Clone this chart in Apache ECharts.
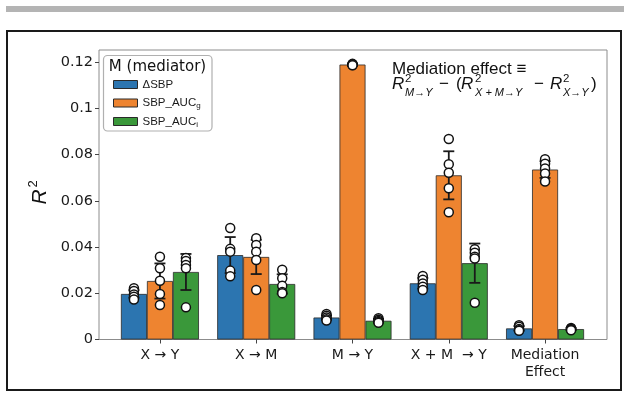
<!DOCTYPE html>
<html>
<head>
<meta charset="utf-8">
<script src="https://cdn.jsdelivr.net/npm/echarts@6/dist/echarts.min.js"></script>
<style>
  html, body { margin: 0; padding: 0; background: #ffffff; }
  #chart { width: 624px; height: 393px; }
</style>
</head>
<body>
<div id="chart"></div>
<script>
// ---- data ----
const categories = ['X → Y', 'X → M', 'M → Y', 'X + M  → Y', 'Mediation\nEffect'];
const seriesNames = ['ΔSBP', 'SBP_AUCg', 'SBP_AUCi'];

// bar heights (mean R²) per mediator
const meanDeltaSBP = [0.0197, 0.0365, 0.0095, 0.0243, 0.0048];
const meanAUCg     = [0.0253, 0.0357, 0.1189, 0.0710, 0.0735];
const meanAUCi     = [0.0292, 0.0240, 0.0081, 0.0330, 0.0045];

// error bar half-lengths (SD)
const errDeltaSBP = [0.0017, 0.0078, 0.0009, 0.0023, 0.0010];
const errAUCg     = [0.0076, 0.0074, 0.0003, 0.0104, 0.0036];
const errAUCi     = [0.0078, 0.0042, 0.0008, 0.0085, 0.0005];

// individual fold values shown as dots
const ptsDeltaSBP = [
  [0.0222, 0.0210, 0.0195, 0.0185, 0.0173],
  [0.0482, 0.0392, 0.0380, 0.0298, 0.0273],
  [0.0110, 0.0103, 0.0095, 0.0088, 0.0082],
  [0.0275, 0.0258, 0.0242, 0.0228, 0.0214],
  [0.0062, 0.0055, 0.0045, 0.0040, 0.0038]
];
const ptsAUCg = [
  [0.0358, 0.0308, 0.0254, 0.0197, 0.0149],
  [0.0438, 0.0409, 0.0380, 0.0344, 0.0214],
  [0.1192, 0.1190, 0.1188, 0.1187, 0.1186],
  [0.0867, 0.0758, 0.0721, 0.0654, 0.0550],
  [0.0780, 0.0760, 0.0740, 0.0718, 0.0683]
];
const ptsAUCi = [
  [0.0352, 0.0340, 0.0322, 0.0308, 0.0139],
  [0.0302, 0.0265, 0.0232, 0.0205, 0.0200],
  [0.0092, 0.0085, 0.0080, 0.0076, 0.0072],
  [0.0390, 0.0375, 0.0358, 0.0350, 0.0159],
  [0.0050, 0.0047, 0.0045, 0.0042, 0.0040]
];

const yTickValues = [0, 0.02, 0.04, 0.06, 0.08, 0.1, 0.12];
const yTickLabels = ['0', '0.02', '0.04', '0.06', '0.08', '0.1', '0.12'];

// ---- styling ----
const colors = ['#2c75b0', '#ee8430', '#3a983a'];
const BAR_W = 26;
const Y_MAX = 0.1252;
const GRID_TOP = 50, GRID_BOTTOM = 53.5;
const TICK_FONT = 'DejaVu Sans';
const TEXT_FONT = 'Liberation Sans';

const means = [meanDeltaSBP, meanAUCg, meanAUCi];
const errs = [errDeltaSBP, errAUCg, errAUCi];
const pts = [ptsDeltaSBP, ptsAUCg, ptsAUCi];

const errData = [];
const dotData = [];
for (let g = 0; g < 3; g++) {
  for (let c = 0; c < categories.length; c++) {
    errData.push([c, g, means[g][c], errs[g][c]]);
    pts[g][c].forEach(v => dotData.push([c, g, v]));
  }
}

const chart = echarts.init(document.getElementById('chart'), null, { renderer: 'canvas' });

const barSeries = seriesNames.map((name, g) => ({
  name: name,
  type: 'bar',
  xAxisIndex: 1,
  yAxisIndex: 1,
  data: means[g],
  barWidth: BAR_W,
  barGap: '0%',
  z: 2,
  itemStyle: { color: colors[g], borderColor: '#2a2a2a', borderWidth: 0.8 },
  emphasis: { disabled: true }
}));

const subRich = {
  sub: { fontFamily: TEXT_FONT, fontSize: 8, verticalAlign: 'bottom', padding: [7, 0, 0, 0], color: '#1a1a1a' }
};

// pieces of the mediation-effect formula
function t(text, x, y, opt) {
  return {
    type: 'text', x: x, y: y, z: 20,
    style: Object.assign({ text: text, fill: '#111', fontFamily: TEXT_FONT, fontSize: 17, verticalAlign: 'middle', align: 'left' }, opt || {})
  };
}
const italicR = { fontStyle: 'italic', fontSize: 17 };
const sup = { fontSize: 11.5 };
const sub = { fontSize: 11, fontStyle: 'italic' };
const formulaY = 84;

const option = {
  animation: false,
  backgroundColor: '#ffffff',
  grid: [
    { left: 99, right: 17, top: GRID_TOP, bottom: GRID_BOTTOM, show: true, borderColor: '#8c8c8c', borderWidth: 1, backgroundColor: 'transparent' },
    { left: 111.8, right: 624 - 593.2, top: GRID_TOP, bottom: GRID_BOTTOM }
  ],
  xAxis: [
    { gridIndex: 0, type: 'value', min: 0, max: 1, show: false },
    {
      gridIndex: 1, type: 'category', data: categories, boundaryGap: true,
      axisLine: { show: false },
      axisTick: { show: true, alignWithLabel: true, length: 4, lineStyle: { color: '#444', width: 1 } },
      axisLabel: { interval: 0, margin: 7, fontFamily: TICK_FONT, fontSize: 14, color: '#1a1a1a', lineHeight: 17 },
      splitLine: { show: false }
    }
  ],
  yAxis: [
    {
      gridIndex: 0, type: 'value', min: 0, max: Y_MAX, interval: 0.02,
      axisLine: { show: false },
      axisTick: { show: true, inside: false, length: 4, lineStyle: { color: '#444', width: 1 }, customValues: yTickValues },
      axisLabel: {
        margin: 6, fontFamily: TICK_FONT, fontSize: 14.5, color: '#1a1a1a',
        customValues: yTickValues,
        formatter: v => {
          const i = yTickValues.findIndex(tv => Math.abs(tv - v) < 1e-9);
          return i >= 0 ? yTickLabels[i] : '';
        }
      },
      splitLine: { show: false }
    },
    { gridIndex: 1, type: 'value', min: 0, max: Y_MAX, show: false }
  ],
  legend: {
    data: seriesNames,
    orient: 'vertical',
    left: 113, top: 77.5,
    z: 30,
    padding: 0,
    itemWidth: 24, itemHeight: 8, itemGap: 4.5,
    icon: 'rect',
    selectedMode: false,
    itemStyle: { borderColor: '#2a2a2a', borderWidth: 1 },
    textStyle: { fontFamily: TEXT_FONT, fontSize: 11.5, color: '#1a1a1a', lineHeight: 14, rich: subRich },
    formatter: name => {
      if (name === 'SBP_AUCg') return 'SBP_AUC{sub|g}';
      if (name === 'SBP_AUCi') return 'SBP_AUC{sub|i}';
      return name;
    }
  },
  series: barSeries.concat([
    {
      name: 'sd', type: 'custom', xAxisIndex: 1, yAxisIndex: 1, z: 3,
      encode: { x: 0, y: 2 },
      data: errData,
      renderItem: (params, api) => {
        const c = api.value(0), g = api.value(1), m = api.value(2), e = api.value(3);
        const hi = api.coord([c, m + e]);
        const lo = api.coord([c, m - e]);
        const x = hi[0] + (g - 1) * BAR_W;
        const cap = 5.5;
        const st = { stroke: '#1a1a1a', lineWidth: 1.8 };
        return {
          type: 'group',
          children: [
            { type: 'line', shape: { x1: x, y1: hi[1], x2: x, y2: lo[1] }, style: st },
            { type: 'line', shape: { x1: x - cap, y1: hi[1], x2: x + cap, y2: hi[1] }, style: st },
            { type: 'line', shape: { x1: x - cap, y1: lo[1], x2: x + cap, y2: lo[1] }, style: st }
          ]
        };
      },
      silent: true
    },
    {
      name: 'folds', type: 'custom', xAxisIndex: 1, yAxisIndex: 1, z: 4,
      encode: { x: 0, y: 2 },
      data: dotData,
      renderItem: (params, api) => {
        const c = api.value(0), g = api.value(1), v = api.value(2);
        const p = api.coord([c, v]);
        return {
          type: 'circle',
          shape: { cx: p[0] + (g - 1) * BAR_W, cy: p[1], r: 4.5 },
          style: { fill: '#ffffff', stroke: '#111', lineWidth: 1.5 }
        };
      },
      silent: true
    }
  ]),
  graphic: [
    // grey strip along the top
    { type: 'rect', shape: { x: 6, y: 6, width: 618, height: 6 }, style: { fill: '#b4b4b4' }, z: 0 },
    // outer black frame
    { type: 'rect', shape: { x: 7, y: 31, width: 614, height: 359 }, style: { fill: 'none', stroke: '#1a1a1a', lineWidth: 2 }, z: 0 },
    // legend box and title
    { type: 'rect', shape: { x: 103.5, y: 55.5, width: 108.5, height: 75.5, r: 4 }, style: { fill: '#ffffff', stroke: '#b0b0b0', lineWidth: 1.2 }, z: 1 },
    { type: 'text', x: 157.5, y: 67, z: 20, style: { text: 'M (mediator)', fill: '#111', fontFamily: TICK_FONT, fontSize: 15, align: 'center', verticalAlign: 'middle' } },
    // y-axis name R²
    {
      type: 'group', x: 40, y: 197, rotation: Math.PI / 2, z: 20,
      children: [
        { type: 'text', x: 0, y: 0, style: { text: 'R', fill: '#111', fontFamily: TEXT_FONT, fontStyle: 'italic', fontSize: 21, align: 'center', verticalAlign: 'middle' } },
        { type: 'text', x: 13, y: -7, style: { text: '2', fill: '#111', fontFamily: TEXT_FONT, fontSize: 13, align: 'center', verticalAlign: 'middle' } }
      ]
    },
    // mediation effect definition
    t('Mediation effect ≡', 392, 69),
    t('R', 392, formulaY, italicR),
    t('2', 405, formulaY - 5, sup),
    t('M→Y', 405, formulaY + 9, sub),
    t('−', 439, formulaY),
    t('(', 456, formulaY),
    t('R', 461, formulaY, italicR),
    t('2', 475, formulaY - 5, sup),
    t('X + M→Y', 475, formulaY + 9, sub),
    t('−', 534, formulaY),
    t('R', 550, formulaY, italicR),
    t('2', 563, formulaY - 5, sup),
    t('X→Y', 563, formulaY + 9, sub),
    t(')', 591, formulaY)
  ]
};

chart.setOption(option);
</script>
</body>
</html>
